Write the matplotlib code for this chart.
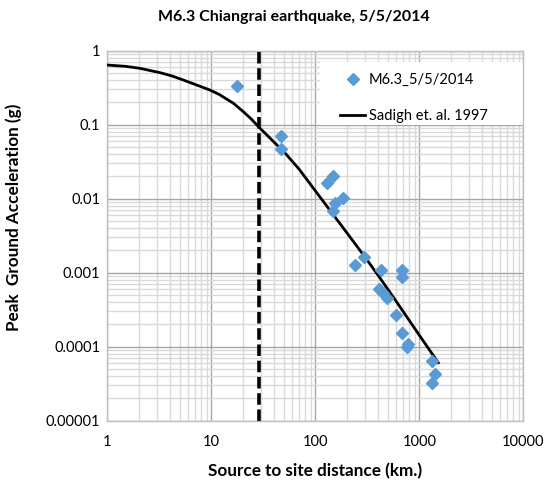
import matplotlib
matplotlib.use("Agg")
import matplotlib.pyplot as plt
from matplotlib.patches import Rectangle
from matplotlib.ticker import LogLocator, FixedLocator, FixedFormatter

plt.rcParams['font.family'] = ['Lato', 'DejaVu Sans']

# Observed PGA (M6.3 Chiangrai, 5/5/2014)
obs_dist = [17.7, 46.8, 46.8, 128.8, 148, 185.8, 155.7, 149, 241, 296, 425, 682, 682,
            407, 451, 486, 593, 687, 783, 757, 1315, 1425, 1315]
obs_pga = [0.333, 0.0704, 0.0466, 0.0161, 0.0201, 0.0103, 0.00867, 0.00689, 0.00127,
           0.00161, 0.00109, 0.00109, 0.000883, 0.000603, 0.000526, 0.000459, 0.000270,
           0.000152, 0.0001077, 0.0000982, 0.0000648, 0.0000428, 0.000032]

# Sadigh et al. 1997 curve
sad_dist = [1, 1.5, 2.06, 3.22, 4.2, 5.38, 7, 9.72, 12, 16.3, 20, 24, 29.4, 35, 42, 50,
            70, 100, 150, 200, 300, 400, 600, 1000, 1523]
sad_pga = [0.64, 0.615, 0.578, 0.505, 0.455, 0.402, 0.35, 0.294, 0.255, 0.195, 0.153,
           0.121, 0.0895, 0.0705, 0.0545, 0.043, 0.025, 0.0128, 0.0060, 0.0035, 0.00163,
           0.00093, 0.00041, 0.000143, 0.0000608]

vline_x = 29

xticks = [1, 10, 100, 1000, 10000]
xticklabels = ['1', '10', '100', '1000', '10000']
yticks = [0.00001, 0.0001, 0.001, 0.01, 0.1, 1]
yticklabels = ['0.00001', '0.0001', '0.001', '0.01', '0.1', '1']

fig = plt.figure(figsize=(5.55, 4.83), dpi=100)
ax = fig.add_axes([0.1933, 0.129, 0.7496, 0.766])
ax.set_xscale('log')
ax.set_yscale('log')
ax.set_xlim(1, 10000)
ax.set_ylim(0.00001, 1)

ax.xaxis.set_major_locator(FixedLocator(xticks))
ax.xaxis.set_major_formatter(FixedFormatter(xticklabels))
ax.yaxis.set_major_locator(FixedLocator(yticks))
ax.yaxis.set_major_formatter(FixedFormatter(yticklabels))
ax.xaxis.set_minor_locator(LogLocator(base=10, subs=range(2, 10), numticks=20))
ax.yaxis.set_minor_locator(LogLocator(base=10, subs=range(2, 10), numticks=20))
ax.tick_params(which='both', length=0, labelsize=10.5, colors='black')
ax.tick_params(axis='y', pad=5)
ax.tick_params(axis='x', pad=10)

ax.grid(which='major', color='#a6a6a6', linewidth=1.0)
ax.grid(which='minor', color='#d9d9d9', linewidth=1.0)
ax.set_axisbelow(True)
for s in ax.spines.values():
    s.set_color('#bfbfbf')
    s.set_linewidth(1.0)

# white legend area
ax.add_patch(Rectangle((0.511, 0.799), 0.489, 0.1705, transform=ax.transAxes,
                       facecolor='white', edgecolor='none', zorder=2))

ax.axvline(vline_x, color='black', linewidth=2.6, dashes=(3.2, 1.3), zorder=3)
ax.plot(sad_dist, sad_pga, color='black', linewidth=2.0, zorder=4,
        label='Sadigh et. al. 1997')
ax.plot(obs_dist, obs_pga, linestyle='none', marker='D', markersize=6.2,
        color='#5b9bd5', zorder=5, label='M6.3_5/5/2014')

h, l = ax.get_legend_handles_labels()
leg = ax.legend([h[1], h[0]], [l[1], l[0]], loc='upper left',
                bbox_to_anchor=(0.559, 0.94), frameon=False,
                fontsize=10.5, labelspacing=1.5, handlelength=1.75,
                borderpad=0.0, borderaxespad=0.0, handletextpad=0.25)
leg.set_zorder(6)

fig.text(0.53, 0.965, 'M6.3 Chiangrai earthquake, 5/5/2014', fontsize=11.5,
         fontweight='bold', ha='center', va='center')
ax.set_xlabel('Source to site distance (km.)', fontsize=12.3, fontweight='bold',
              labelpad=10)
ax.set_ylabel('Peak  Ground Acceleration (g)', fontsize=12.3, fontweight='bold')
ax.yaxis.set_label_coords(-0.205, 0.55)

fig.savefig('out.png', dpi=100)
